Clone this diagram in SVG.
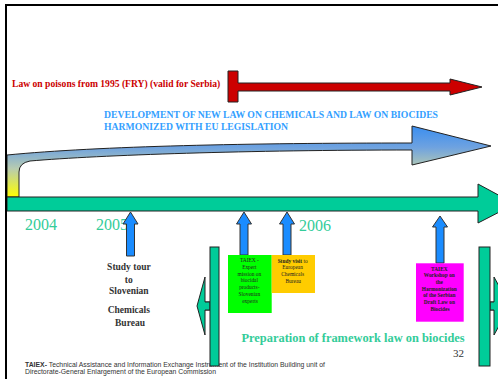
<svg xmlns="http://www.w3.org/2000/svg" width="498" height="379" viewBox="0 0 498 379">
  <style>
    .serif { font-family: "Liberation Serif", "Times New Roman", serif; }
    .sans { font-family: "Liberation Sans", Arial, sans-serif; }
    .year { font-family: "Liberation Serif", serif; font-size: 16px; fill: #33cc99; }
    .box-text { font-family: "Liberation Serif", serif; font-size: 5.4px; fill: #222; text-anchor: middle; }
    .up-arrow { fill: #1a8cff; stroke: #333; stroke-width: 1; }
    .outline { stroke: #222; stroke-width: 1; }
    .teal { fill: #00cc99; }
  </style>
  <defs>
    <linearGradient id="devGrad" gradientUnits="userSpaceOnUse" x1="0" y1="126" x2="0" y2="197">
      <stop offset="0" stop-color="#3a8ef0"/>
      <stop offset="0.3" stop-color="#6ea2e0"/>
      <stop offset="0.6" stop-color="#b8ccb0"/>
      <stop offset="1" stop-color="#ffff00"/>
    </linearGradient>
  </defs>

  <rect width="498" height="379" fill="#ffffff"/>

  <!-- Development arrow (bent, gradient) -->
  <g id="development-arrow">
    <path d="M7,197 V155 C100,146 250,143 412,143 V126 L491,146 L412,165 V150 C250,150 100,155 30,161 Q19,163 19,172 V197 Z" fill="url(#devGrad)" class="outline"/>
  </g>

  <!-- Main time line -->
  <g id="timeline">
    <path d="M7,197 H478 V184 L515,204 L478,223 V211 H7 Z" class="teal outline"/>
  </g>

  <!-- Law on poisons arrow -->
  <g id="poison-law">
    <path d="M228,71 H238 V83 H450 V79 L482,87 L450,95 V91 H238 V102 H228 Z" fill="#cc0000" class="outline"/>
    <text x="12" y="87" class="serif" font-size="9.6" font-weight="bold" fill="#cc0000">Law on poisons from 1995 (FRY) (valid for Serbia)</text>
  </g>

  <g id="development-title">
    <text class="serif" font-size="9.7" font-weight="bold" fill="#33a0ff">
      <tspan x="104" y="118">DEVELOPMENT OF NEW LAW ON CHEMICALS AND LAW ON BIOCIDES</tspan>
      <tspan x="104" y="130">HARMONIZED WITH EU LEGISLATION</tspan>
    </text>
  </g>

  <!-- Year labels -->
  <g id="years">
    <text x="25" y="230" class="year">2004</text>
    <text x="96" y="230" class="year">2005</text>
    <text x="299" y="231" class="year">2006</text>
  </g>

  <!-- Event pointers -->
  <g id="connectors">
    <path d="M130.5,212 L138,224 H134.5 V256 H126.5 V224 H123 Z" class="up-arrow"/>
    <path d="M244,212 L251.5,224 H248 V255 H240 V224 H236.5 Z" class="up-arrow"/>
    <path d="M287,212 L294.5,224 H291 V255 H283 V224 H279.5 Z" class="up-arrow"/>
    <path d="M440,216 L447.5,227 H444 V263 H436 V227 H432.5 Z" class="up-arrow"/>
  </g>

  <g id="study-tour">
    <text class="serif" font-size="9.5" font-weight="bold" fill="#333" text-anchor="middle">
      <tspan x="130" y="270">Study tour</tspan>
      <tspan x="130" y="283">to</tspan>
      <tspan x="130" y="294">Slovenian</tspan>
      <tspan x="130" y="313">Chemicals</tspan>
      <tspan x="130" y="326">Bureau</tspan>
    </text>
  </g>

  <g id="expert-mission">
    <rect x="228" y="255" width="43.7" height="58" fill="#00ff00"/>
    <text class="box-text">
      <tspan x="250" y="262">TAIEX -</tspan>
      <tspan x="250" y="268.8">Expert</tspan>
      <tspan x="250" y="275.6">mission on</tspan>
      <tspan x="250" y="282.4">biocidal</tspan>
      <tspan x="250" y="289.2">products-</tspan>
      <tspan x="250" y="296">Slovenian</tspan>
      <tspan x="250" y="302.8">experts</tspan>
    </text>
  </g>

  <g id="study-visit">
    <rect x="271.7" y="255" width="43.3" height="38" fill="#ffcc00"/>
    <text class="box-text">
      <tspan x="293.3" y="262.5"><tspan font-weight="bold">Study visit</tspan> to</tspan>
      <tspan x="293.3" y="269.3">European</tspan>
      <tspan x="293.3" y="276.1">Chemicals</tspan>
      <tspan x="293.3" y="282.9">Bureau</tspan>
    </text>
  </g>

  <g id="workshop">
    <rect x="416" y="263.3" width="47.7" height="58.4" fill="#ff00ff"/>
    <text class="box-text" font-weight="bold">
      <tspan x="440" y="270.5">TAIEX</tspan>
      <tspan x="440" y="277.2">Workshop on</tspan>
      <tspan x="440" y="283.9">the</tspan>
      <tspan x="440" y="290.6">Harmonization</tspan>
      <tspan x="440" y="297.3">of the Serbian</tspan>
      <tspan x="440" y="304">Draft Law on</tspan>
      <tspan x="440" y="310.7">Biocides</tspan>
    </text>
  </g>

  <g id="framework-title">
    <text x="241.5" y="342" class="serif" font-size="12.4" font-weight="bold" fill="#33cc99">Preparation of framework law on biocides</text>
  </g>

  <g id="footer">
    <text x="453" y="357" class="serif" font-size="11" fill="#333">32</text>
    <text class="sans" font-size="6.85" fill="#333">
      <tspan x="25" y="366.5"><tspan font-weight="bold">TAIEX-</tspan> Technical Assistance and Information Exchange Instrument of the Institution Building unit of</tspan>
      <tspan x="25" y="374">Directorate-General Enlargement of the European Commission</tspan>
    </text>
  </g>

  <!-- Framework period brackets -->
  <g id="bracket-left">
    <rect x="205" y="302" width="6" height="8" fill="#ffffff" class="outline"/>
    <path d="M197,306 L205,277 V302 H210 V310 H205 V335 Z" class="teal outline"/>
    <rect x="210" y="247" width="9" height="119" class="teal outline"/>
  </g>
  <g id="bracket-right">
    <rect x="489" y="302" width="6" height="8" fill="#ffffff" class="outline"/>
    <path d="M494,277 L510,306 L494,335 V310 H490 V302 H494 Z" class="teal outline"/>
    <rect x="479" y="247" width="11" height="119" class="teal outline"/>
  </g>

  <!-- Slide frame -->
  <g id="frame">
    <path d="M6,380 V5 H499" fill="none" stroke="#000" stroke-width="2"/>
  </g>
</svg>
